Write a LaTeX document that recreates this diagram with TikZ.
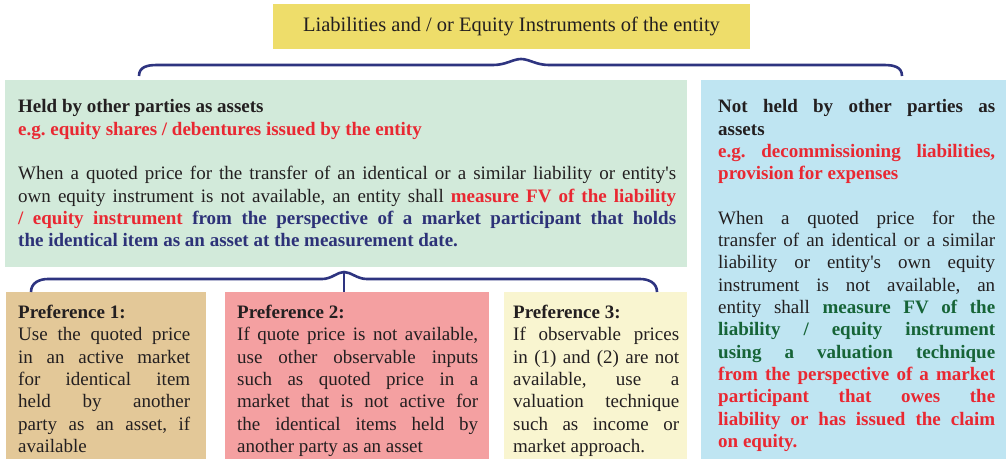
\documentclass[tikz,border=0pt]{standalone}
\usepackage{fontspec}
\setmainfont{Liberation Serif}[Ligatures=TeXOff]
\usepackage{xcolor}
\usepackage{tikz}

\definecolor{topyellow}{RGB}{238,221,106}
\definecolor{heldgreen}{RGB}{210,234,218}
\definecolor{notheldblue}{RGB}{191,229,242}
\definecolor{prefone}{RGB}{227,200,152}
\definecolor{preftwo}{RGB}{244,160,161}
\definecolor{prefthree}{RGB}{249,245,208}
\definecolor{bracenavy}{RGB}{46,52,128}
\definecolor{txtblack}{RGB}{35,31,32}
\definecolor{txtred}{RGB}{233,40,50}
\definecolor{txtnavy}{RGB}{45,50,120}
\definecolor{txtgreen}{RGB}{22,100,55}

\newcommand{\bodysize}{\fontsize{19}{22.3}\selectfont\frenchspacing\parindent=0pt\tolerance=10000\hbadness=10000}

\tikzset{
  panel/.style={fill=#1, inner sep=0pt, outer sep=0pt, anchor=north west},
  bodytext/.style={anchor=north west, inner sep=0pt, text width=#1, align=justify, font=\bodysize, text=txtblack},
  brace/.style={draw=bracenavy, line width=2.6pt},
}

\begin{document}
\begin{tikzpicture}[x=1pt, y=-1pt]
\useasboundingbox (0,0) rectangle (1006,459);

% boxes
\node[panel=topyellow, minimum width=477pt, minimum height=45pt, font=\fontsize{20.5}{24}\selectfont, text=txtblack] (entity) at (273,4) {Liabilities and / or Equity Instruments of the entity};
\node[panel=heldgreen, minimum width=682pt, minimum height=187pt] (held) at (5,80) {};
\node[panel=notheldblue, minimum width=305pt, minimum height=379pt] (notheld) at (701,80) {};
\node[panel=prefone, minimum width=200pt, minimum height=167pt] (pref1) at (6,292) {};
\node[panel=preftwo, minimum width=264pt, minimum height=167pt] (pref2) at (225,292) {};
\node[panel=prefthree, minimum width=183pt, minimum height=167pt] (pref3) at (504,292) {};

% texts
\node[bodytext=658pt] (heldtext) at (18,97) {\strut\textbf{Held by other parties as assets}\newline
\textcolor{txtred}{\textbf{e.g. equity shares / debentures issued by the entity}}\par\vspace{\baselineskip}
When a quoted price for the transfer of an identical or a similar liability or entity's\linebreak
own equity instrument is not available, an entity shall \textcolor{txtred}{\textbf{measure FV of the liability\linebreak
/ equity instrument}} \textcolor{txtnavy}{\textbf{from the perspective of a market participant that holds\linebreak
the identical item as an asset at the measurement date.}}};

\node[bodytext=277pt] (notheldtext) at (718,97) {\strut\textbf{Not held by other parties as\linebreak assets}\newline
\textcolor{txtred}{\textbf{e.g. decommissioning liabilities,\linebreak provision for expenses}}\par\vspace{\baselineskip}
When a quoted price for the\linebreak transfer of an identical or a similar\linebreak liability or entity's own equity\linebreak
instrument is not available, an\linebreak entity shall \textcolor{txtgreen}{\textbf{measure FV of the\linebreak
liability / equity instrument\linebreak using a valuation technique}}\linebreak
\textcolor{txtred}{\textbf{from the perspective of a market\linebreak participant that owes the\linebreak
liability or has issued the claim\linebreak on equity.}}};

\node[bodytext=172pt] (pref1text) at (18,302.7) {\strut\textbf{Preference 1:}\newline
Use the quoted price\linebreak in an active market\linebreak for identical item\linebreak
held by another\linebreak party as an asset, if\linebreak available};
\node[bodytext=241pt] (pref2text) at (237,302.7) {\strut\textbf{Preference 2:}\newline
If quote price is not available,\linebreak use other observable inputs\linebreak such as quoted price in a\linebreak
market that is not active for\linebreak the identical items held by\linebreak another party as an asset};
\node[bodytext=166pt] (pref3text) at (513,302.7) {\strut\textbf{Preference 3:}\newline
If observable prices\linebreak in (1) and (2) are not\linebreak available, use a\linebreak
valuation technique\linebreak such as income or\linebreak market approach.};

% braces
\coordinate (heldend) at (139,76);
\coordinate (notheldend) at (902,76);
\coordinate (toptip) at (521,59);
\coordinate (pref1end) at (31,292);
\coordinate (pref3end) at (657,292);
\coordinate (preftip) at (344,272);

\draw[brace] (heldend) .. controls +(0,-9) and +(-10,0) .. (157,65) -- (493,65)
  .. controls +(13,0) and +(-8,0) .. (toptip) .. controls +(8,0) and +(-13,0) .. (549,65)
  -- (884,65) .. controls +(10,0) and +(0,-9) .. (notheldend);
\draw[brace] (pref1end) .. controls +(0,-9) and +(-9,0) .. (48,279) -- (322,279)
  .. controls +(10,0) and +(-7,0) .. (preftip) .. controls +(7,0) and +(-10,0) .. (367,279)
  -- (640,279) .. controls +(9,0) and +(0,-9) .. (pref3end);
\draw[brace] (preftip) -- (preftip |- pref2.north);
\end{tikzpicture}
\end{document}
